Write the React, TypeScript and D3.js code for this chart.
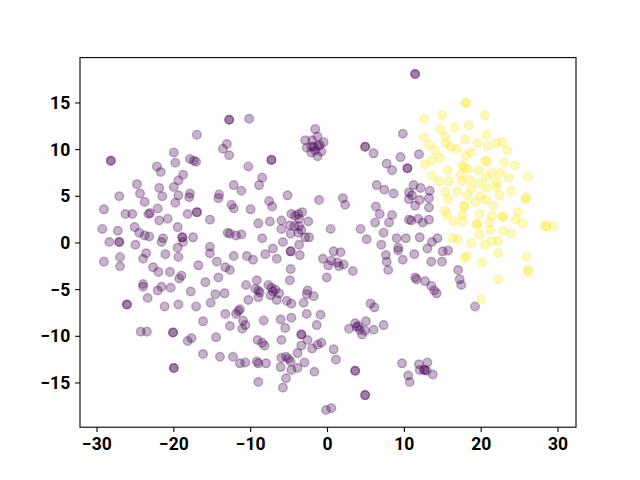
import React from "react";
import * as d3 from "d3";

const xTicks = [-30, -20, -10, 0, 10, 20, 30];
const yTicks = [-15, -10, -5, 0, 5, 10, 15];

const class0Points: [number, number][] = [
[-17.0,11.6],[-28.2,8.8],[-28.2,8.8],[-20.0,9.7],[-19.8,8.6],[-17.9,9.0],[-17.4,8.8],[-17.1,8.7],[-22.2,8.2],[-21.7,7.6],[-24.8,6.3],[-18.8,7.3],[-19.4,6.7],
[-12.8,13.2],[-12.8,13.2],[-10.2,13.3],[-13.1,10.6],[-13.6,10.1],[-12.8,9.4],[-7.3,8.9],[-7.3,8.9],[-10.3,8.2],[-8.5,7.0],[-12.2,6.2],[-8.9,6.2],
[-1.6,12.2],[-1.3,11.4],[-2.9,11.0],[-2.0,11.0],[-0.5,10.8],[-1.0,10.5],[-2.7,10.2],[-2.1,10.3],[-1.6,9.9],[-0.8,9.8],[-1.3,9.3],[-2.1,9.7],[-1.8,10.3],[-1.2,10.4],
[11.4,18.1],[11.4,18.1],[9.8,11.7],[4.9,10.3],[4.9,10.3],[6.0,9.6],[9.5,9.2],[11.9,9.5],[7.7,8.5],[8.4,7.8],[10.4,8.0],[10.4,8.0],[6.4,6.2],[11.2,6.2],
[-21.9,5.9],[-20.0,6.0],[-24.4,5.3],[-27.1,5.0],[-23.8,4.4],[-21.5,5.0],[-19.4,5.1],[-18.0,4.9],[-17.9,5.3],[-19.8,4.3],[-29.1,3.6],[-26.3,3.1],[-25.4,3.1],[-23.3,3.1],[-23.1,3.2],[-22.1,3.7],[-20.8,2.6],[-21.9,2.4],[-18.2,3.1],[-17.0,3.3],[-17.0,3.3],
[-29.3,1.5],[-27.3,1.3],[-25.1,1.7],[-24.5,1.1],[-23.8,0.8],[-23.2,0.7],[-19.5,1.7],[-28.4,0.1],[-27.1,0.1],[-27.1,0.1],[-25.0,-0.2],[-21.4,0.5],[-21.6,0.1],[-18.9,0.6],[-18.9,0.6],[-18.8,0.1],[-17.5,0.6],[-19.5,-0.5],
[-23.6,-1.1],[-24.0,-1.7],[-21.1,-1.2],[-19.4,-1.5],[-27.0,-1.5],[-27.0,-2.5],[-29.1,-2.0],[-22.7,-2.6],[-22.0,-3.1],[-20.5,-3.1],[-19.3,-3.8],[-19.0,-3.5],[-16.8,-2.4],[-24.0,-4.4],[-24.0,-4.7],[-21.6,-4.7],[-22.1,-5.1],[-20.4,-4.8],[-17.8,-5.2],[-23.4,-5.9],[-26.1,-6.6],[-26.1,-6.6],[-21.2,-6.8],[-19.4,-6.6],[-17.1,-6.8],
[-11.2,5.6],[-14.1,5.2],[-14.2,4.8],[-5.2,5.1],[-1.1,4.6],[-7.6,4.5],[-7.2,3.9],[-12.5,4.1],[-12.2,3.7],[-10.0,3.6],[-15.3,2.5],[-9.0,2.1],[-7.5,2.3],[-6.0,2.4],
[-4.7,3.1],[-3.8,3.1],[-3.3,3.3],[-4.2,2.9],[-3.7,2.6],[-4.9,1.9],[-3.7,1.8],[-4.3,1.8],[-2.5,2.3],[-6.0,1.5],[-4.8,1.0],[-3.4,1.4],[-2.9,0.6],[-2.4,0.6],[-3.8,1.1],
[-13.0,1.1],[-12.7,1.0],[-11.9,0.8],[-11.2,0.9],[-8.5,0.5],[-5.8,0.1],[-3.7,-0.2],[-15.3,-0.4],[-15.3,-1.1],[-7.1,-0.6],[-8.1,-1.2],[-4.8,-0.9],[-4.8,-0.9],[-3.6,-1.3],[-12.2,-1.4],[-10.5,-1.4],[-9.7,-1.8],[-6.6,-1.7],[-14.4,-2.0],[-13.3,-2.6],[-12.7,-2.9],[-4.8,-2.8],[-14.2,-3.7],[-4.9,-4.0],[-0.6,-1.7],[0.1,-2.4],[-0.1,-3.7],[-15.9,-4.2],[-10.6,-4.5],
[-9.2,-4.0],[-9.4,-4.9],[-9.0,-5.1],[-8.8,-5.3],[-7.7,-4.5],[-7.3,-4.8],[-7.1,-5.2],[-6.8,-5.0],[-9.0,-5.8],[-7.4,-5.6],[-6.6,-6.1],[-6.3,-5.4],[-2.6,-5.1],[-2.7,-5.5],[-1.8,-5.7],[-14.6,-5.5],[-13.4,-5.4],[-15.2,-6.4],[-10.3,-6.1],[-5.3,-6.2],[-4.7,-6.5],[-3.1,-6.4],
[7.4,5.7],[8.6,5.3],[10.6,5.4],[10.6,4.7],[12.1,5.9],[13.3,5.6],[13.2,4.8],[12.0,4.6],[11.4,4.0],[11.0,5.1],[13.2,3.8],[2.0,4.8],[2.3,4.1],[6.3,3.9],[6.8,3.1],[8.4,3.0],[8.0,2.2],[6.2,2.2],[10.6,2.5],[10.9,2.4],[11.8,2.6],[12.4,2.2],[13.2,2.5],[0.4,1.5],[4.3,1.5],[7.3,1.1],[5.1,0.4],[9.0,0.5],[10.2,0.5],[12.0,0.6],[7.0,-0.2],[14.3,0.5],[13.6,0.1],[13.0,-0.6],[9.2,-0.5],[9.2,-0.8],[0.8,-0.9],[1.7,-1.0],[7.6,-1.3],[11.3,-1.2],[15.0,-0.9],[15.7,-0.8],[7.7,-2.0],[9.8,-1.8],[13.5,-2.0],[14.9,-2.0],[0.5,-1.9],[1.3,-2.1],[2.1,-2.3],[1.5,-2.5],[3.3,-3.0],[7.9,-2.9],[11.4,-3.7],[11.6,-3.9],[12.7,-4.1],[13.5,-4.6],[13.9,-5.1],[14.2,-5.4],[5.6,-6.5],[6.1,-6.9],
[17.0,-2.9],[17.2,-3.9],[17.4,-4.5],[19.2,-6.8],
[-24.3,-9.5],[-23.5,-9.5],[-20.1,-9.6],[-20.1,-9.6],[-18.2,-10.5],[-17.7,-10.2],[-16.2,-8.4],[-16.2,-11.9],[-20.0,-13.4],[-20.0,-13.4],
[-13.3,-7.6],[-11.9,-7.6],[-11.6,-7.3],[-11.4,-7.1],[-11.0,-8.3],[-10.7,-8.8],[-11.1,-9.2],[-12.7,-8.9],[-8.3,-8.3],[-6.1,-8.2],[-4.7,-8.0],[-5.5,-9.1],[-2.7,-7.6],[-0.9,-7.7],[-1.4,-8.8],[-14.5,-10.1],[-9.1,-10.4],[-8.5,-10.7],[-8.2,-11.0],[-6.0,-10.4],[-3.4,-9.8],[-3.4,-9.8],[-2.6,-10.4],[-3.4,-11.0],[-2.0,-11.3],[-1.3,-10.9],[-0.8,-10.7],[-14.0,-12.2],[-12.3,-12.2],[-11.4,-12.9],[-10.7,-12.8],[-9.2,-12.7],[-9.0,-12.9],[-8.0,-12.9],[-6.0,-12.3],[-5.4,-12.2],[-5.1,-12.4],[-4.8,-12.7],[-3.9,-11.8],[-6.1,-13.3],[-4.7,-13.6],[-3.9,-13.4],[-3.0,-12.8],[-1.7,-13.8],[-9.0,-14.9],[-5.4,-14.5],[-5.8,-15.5],[-0.2,-17.9],[0.5,-17.7],
[3.6,-8.6],[2.8,-9.2],[4.0,-8.9],[4.2,-9.3],[4.9,-9.4],[4.5,-9.8],[5.0,-8.4],[6.0,-9.3],[7.3,-8.8],[3.8,-9.0],[0.8,-11.4],[1.1,-12.5],[3.6,-13.7],[3.6,-13.7],[4.9,-16.3],[4.9,-16.3],[9.7,-12.9],[11.9,-13.0],[13.0,-12.8],[12.0,-13.6],[12.6,-13.6],[12.6,-13.6],[12.9,-13.7],[13.7,-14.1],[10.5,-14.2],[10.7,-14.9]
];

const class1Points: [number, number][] = [
[12.6,13.3],[14.9,13.7],[14.7,12.2],[16.5,12.4],[12.6,11.3],[15.3,11.4],[13.2,10.5],[15.4,10.7],[16.0,10.3],[14.0,9.9],[14.6,9.1],[13.6,8.9],[12.7,8.4],[15.6,7.8],[13.6,7.2],[14.5,6.6],[15.8,6.6],
[18.0,15.0],[18.0,15.0],[20.5,13.7],[18.4,12.6],[20.7,11.6],[17.9,11.1],[19.5,10.7],[22.0,10.7],[22.8,10.8],[20.8,10.4],[23.4,9.9],[16.8,10.1],[18.7,9.7],[18.0,9.3],[20.5,8.8],[20.8,8.7],[23.0,8.6],[24.4,8.3],[17.5,8.3],[17.8,8.1],[19.7,7.8],[18.3,7.9],[21.4,7.5],[22.5,7.5],[17.3,7.3],[20.7,7.0],[26.1,7.1],[23.6,7.0],[18.5,6.8],[19.7,6.4],[22.0,6.5],[22.0,6.0],[17.5,6.6],
[15.3,5.5],[15.7,4.7],[15.3,3.5],[15.5,3.0],[16.4,2.3],[16.3,0.5],
[16.9,5.5],[18.7,5.8],[20.7,5.9],[18.2,5.1],[19.9,5.0],[20.6,4.6],[22.4,5.1],[23.9,5.6],[25.8,4.9],[25.8,4.7],[19.2,4.4],[17.8,4.0],[17.8,3.9],[21.6,4.0],[17.5,3.0],[17.6,2.3],[19.8,3.1],[21.4,2.9],[22.8,2.8],[22.8,2.8],[24.8,3.3],[24.5,2.5],[25.4,2.1],[19.5,2.1],[19.4,1.9],[21.1,2.2],[21.2,1.4],[28.3,1.8],[28.5,1.8],[29.4,1.8],[22.9,1.3],[23.9,1.0],[19.8,0.9],[16.9,0.4],[18.7,0.0],[20.5,-0.2],[21.4,0.2],[22.2,0.2],[22.2,-1.1],[18.1,-1.4],[17.8,-1.6],[25.9,-1.5],[20.1,-2.1],[26.0,-2.9],[26.2,-3.1],[22.2,-3.9],[20.0,-6.0]
];

const classColors = ["#440154", "#fde725"];

export default function App() {
  const W = 640, H = 480;
  const left = 80, right = 576, top = 57.6, bottom = 427.2;
  const x = d3.scaleLinear().domain([-32.21, 32.34]).range([left, right]);
  const y = d3.scaleLinear().domain([-19.74, 19.86]).range([bottom, top]);
  const fmt = (v: number) => (v < 0 ? "\u2212" + Math.abs(v) : String(v));
  const font = "Roboto, 'DejaVu Sans', sans-serif";
  const series = [class0Points, class1Points];
  return (
    <svg width={W} height={H} style={{ position: "absolute", left: 0, top: 0, display: "block", background: "#fff" }}>
      <rect x={0} y={0} width={W} height={H} fill="#fff" />
      <g>
        {series.map((pts, si) =>
          pts.map((p, i) => (
            <circle
              key={si + "-" + i}
              cx={x(p[0])}
              cy={y(p[1])}
              r={4.3}
              fill={classColors[si]}
              fillOpacity={0.3}
              stroke={classColors[si]}
              strokeOpacity={0.3}
              strokeWidth={1.4}
            />
          ))
        )}
      </g>
      <rect x={left} y={top} width={right - left} height={bottom - top} fill="none" stroke="#000" strokeWidth={1.1} />
      <g fontFamily={font} fontSize={17.5} fontWeight={700} fill="#000">
        {xTicks.map((t) => (
          <g key={"x" + t}>
            <line x1={x(t)} x2={x(t)} y1={bottom} y2={bottom + 4.9} stroke="#000" strokeWidth={1.1} />
            <text x={x(t)} y={bottom + 4.9 + 5.5} textAnchor="middle" dominantBaseline="hanging">{fmt(t)}</text>
          </g>
        ))}
        {yTicks.map((t) => (
          <g key={"y" + t}>
            <line x1={left - 4.9} x2={left} y1={y(t)} y2={y(t)} stroke="#000" strokeWidth={1.1} />
            <text x={left - 4.9 - 4.9} y={y(t)} textAnchor="end" dominantBaseline="central">{fmt(t)}</text>
          </g>
        ))}
      </g>
    </svg>
  );
}
